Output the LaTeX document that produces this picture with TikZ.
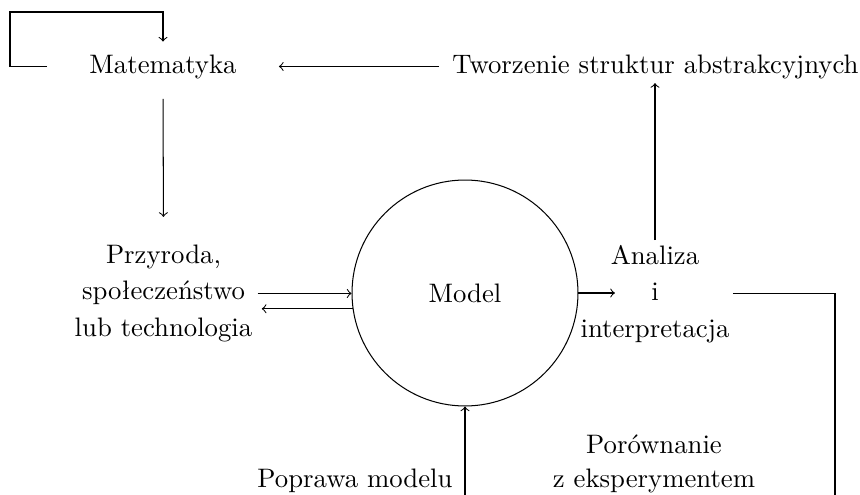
\documentclass[tikz,border=0pt]{standalone}
\usepackage{fontspec}
\begin{document}
\begin{tikzpicture}[x=0.389pt,y=-0.389pt,
  lbl/.style={inner sep=0pt, font=\fontsize{10.4}{14.2}\selectfont, align=center},
  lbltight/.style={inner sep=0pt, font=\fontsize{10.4}{13}\selectfont, align=center},
  conn/.style={->, line width=0.4pt}]
\useasboundingbox (0,0) rectangle (860,495);
\node[lbl,anchor=base] (mat) at (163,73) {Matematyka};
\node[lbl,anchor=base] (tw) at (655.5,73) {Tworzenie struktur abstrakcyjnych};
\node[lbl,anchor=north] (prz) at (163.5,244.4) {Przyroda,\\społeczeństwo\\lub technologia};
\node[draw,circle,minimum size=87.9pt,inner sep=0pt,font=\fontsize{10.4}{13}\selectfont] (model) at (465,293) {Model};
\node[lbl,anchor=north] (ana) at (655,244.4) {Analiza\\i\\interpretacja};
\node[lbltight,anchor=north] (por) at (654,434.5) {Porównanie\\z eksperymentem};
\node[lbl,anchor=base] (pop) at (355,487) {Poprawa modelu};
\coordinate (lc) at (10,12);
\coordinate (rc) at (835,495);
\coordinate (bc) at (465,495);
\draw[conn, shorten <=16.3pt, shorten >=4.8pt] (mat.west) -| (lc) -| (mat.north);
\draw[conn, shorten <=7.7pt, shorten >=10.7pt] (mat.south) -- (prz.north);
\draw[conn, shorten <=5pt, shorten >=16.3pt] (tw.west) -- (mat.east);
\draw[conn, shorten <=1.7pt, shorten >=1.6pt] (ana.north) -- (ana.north |- tw.south);
\draw[conn, shorten <=1.9pt] (prz.east) -- (prz.east -| model.west);
\draw[conn, shorten >=3.5pt] (model.188) -- (model.188 -| prz.east);
\draw[conn, shorten >=15.6pt] (model.east) -- (model.east -| ana.center);
\draw[line width=0.4pt, shorten <=30.3pt] (ana.center) -| (rc);
\draw[conn] (bc) -- (model.south);
\end{tikzpicture}
\end{document}
